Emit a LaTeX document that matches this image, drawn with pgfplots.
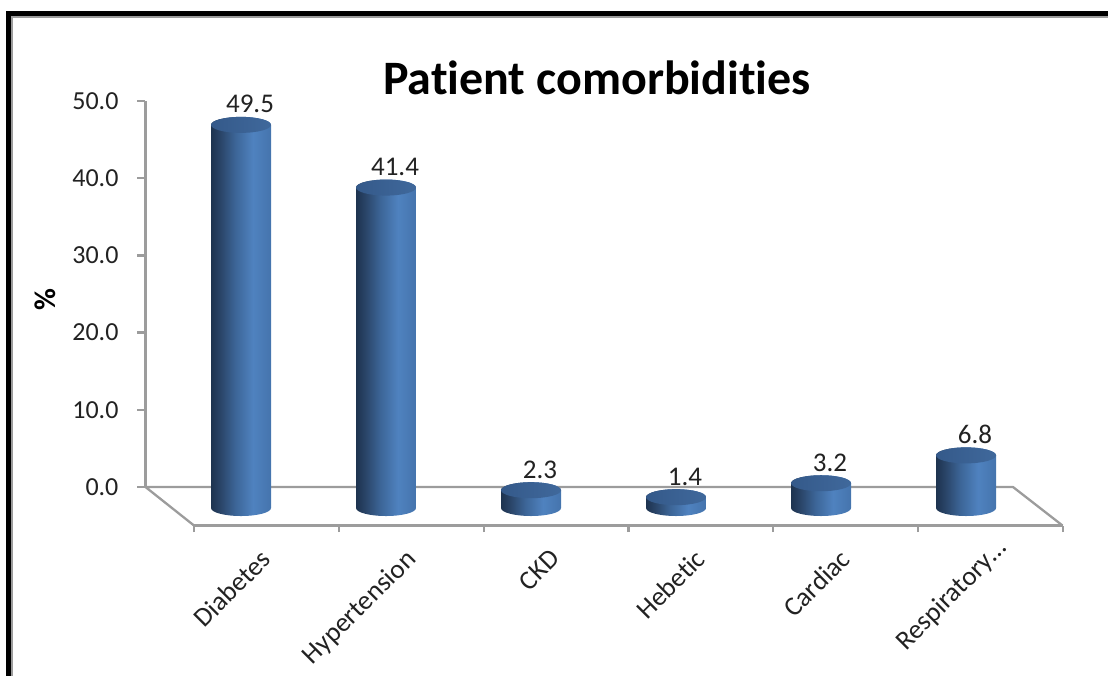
\documentclass[border=0pt]{standalone}
\usepackage{pgfplots}
\pgfplotsset{compat=1.18}
\usepackage{fontspec}
\setmainfont[Ligatures=NoCommon]{Carlito}
\usetikzlibrary{shadings}

\definecolor{axisgray}{HTML}{9C9C9C}
\definecolor{labeltext}{HTML}{222222}

% horizontal light falloff on the cylinder wall and on its cap
\pgfdeclarehorizontalshading{cylbody}{100bp}{
  rgb(0bp)=(0.115,0.200,0.310);
  rgb(25bp)=(0.115,0.200,0.310);
  rgb(33bp)=(0.165,0.270,0.410);
  rgb(45bp)=(0.235,0.395,0.590);
  rgb(60bp)=(0.310,0.510,0.750);
  rgb(75bp)=(0.270,0.455,0.680);
  rgb(100bp)=(0.270,0.455,0.680)}
\pgfdeclarehorizontalshading{cylcap}{100bp}{
  rgb(0bp)=(0.205,0.350,0.540);
  rgb(25bp)=(0.205,0.350,0.540);
  rgb(75bp)=(0.250,0.410,0.610);
  rgb(100bp)=(0.250,0.410,0.610)}

% a cylinder hanging down from its data point, 7.74 px per percent
\pgfdeclareplotmark{cyl}{%
  \pgfmathsetmacro\cylH{\barval*7.74}%
  \begin{scope}[x=0.5pt,y=0.5pt,yslant=-0.085]
    \shade[draw=none,shading=cylbody] (-30,0) -- (-30,-\cylH)
      arc[start angle=180,end angle=360,x radius=30,y radius=8]
      -- (30,0) arc[start angle=0,end angle=180,x radius=30,y radius=8] -- cycle;
    \shade[draw=none,shading=cylcap] (0,0) ellipse[x radius=30,y radius=8];
  \end{scope}}

\begin{document}
\begin{tikzpicture}
\useasboundingbox (0,0) rectangle (554pt,338pt);

% outer frame and chart floor, in 1108 x 676 page units
\begin{scope}[x=0.5pt,y=-0.5pt,yshift=338pt]
  \fill[black] (6,11) rectangle (1108,16);
  \fill[black] (6,11) rectangle (11,676);
  \fill[axisgray] (11,16) rectangle (1108,18);
  \fill[axisgray] (11,16) rectangle (13,676);
  \draw[axisgray,line width=1.15pt,line join=round]
    (194,525.5) -- (145.5,487) -- (1013,487) -- (1062.5,525.5);
\end{scope}

% value axis
\begin{axis}[
  at={(72.75pt,94.5pt)}, anchor=south west,
  scale only axis, width=5pt, height=193pt,
  ymin=0, ymax=50, xmin=0, xmax=1,
  ytick={0,10,...,50}, xtick=\empty,
  axis y line=left, axis x line=none,
  axis line style={axisgray,line width=1.15pt,-},
  tick style={axisgray,line width=1.15pt},
  tick align=outside, major tick length=4pt,
  /pgf/number format/assume math mode=true,
  yticklabel style={font=\fontsize{13}{13}\selectfont,text=labeltext,xshift=-6pt,
    /pgf/number format/fixed,/pgf/number format/fixed zerofill,/pgf/number format/precision=1},
  ylabel={\textbf{\%}},
  ylabel style={font=\fontsize{15}{15}\selectfont,at={(axis description cs:0,0.5)},
    anchor=center,xshift=-3pt,yshift=50pt,rotate=0},
]
\end{axis}

% category axis
\begin{axis}[
  at={(97pt,75.25pt)}, anchor=south west,
  scale only axis, width=434.5pt, height=5pt,
  xmin=0, xmax=6, ymin=0, ymax=1,
  xtick={0.5,1.5,2.5,3.5,4.5,5.5},
  xticklabels={Diabetes,Hypertension,CKD,Hebetic,Cardiac,Respiratory…\kern-8pt},
  minor xtick={0,1,...,6},
  ytick=\empty,
  axis x line=bottom, axis y line=none,
  axis line style={axisgray,line width=1.15pt,-},
  minor tick style={axisgray,line width=1.15pt},
  major tick length=0pt, minor tick length=3.25pt,
  tick align=outside,
  xticklabel style={font=\fontsize{13.5}{13.5}\selectfont,text=labeltext,
    rotate=45,anchor=north east,xshift=-6.9pt,yshift=-1.8pt},
]
\end{axis}

% cylinders and their value labels
\begin{axis}[
  at={(0,0)}, anchor=south west,
  scale only axis, width=554pt, height=338pt,
  hide axis, clip=false,
  xmin=-1.662, xmax=5.979, ymin=-21.705, ymax=65.633,
]
\addplot[scatter, only marks, mark=cyl, scatter src=y,
  visualization depends on={rawy \as \barval},
  nodes near coords,
  every node near coord/.style={font=\fontsize{13.5}{13.5}\selectfont,text=labeltext,
    anchor=base,xshift=4.5pt,yshift=6pt,
    /pgf/number format/assume math mode=true,
    /pgf/number format/fixed,/pgf/number format/fixed zerofill,/pgf/number format/precision=1},
] table[row sep=\\] {
  x y \\
  0 49.5 \\
  1 41.4 \\
  2 2.3 \\
  3 1.4 \\
  4 3.2 \\
  5 6.8 \\
};
\end{axis}

% chart title
\node[font=\bfseries\fontsize{24}{24}\selectfont,anchor=base] at (298.5pt,290.5pt) {Patient comorbidities};
\end{tikzpicture}
\end{document}
